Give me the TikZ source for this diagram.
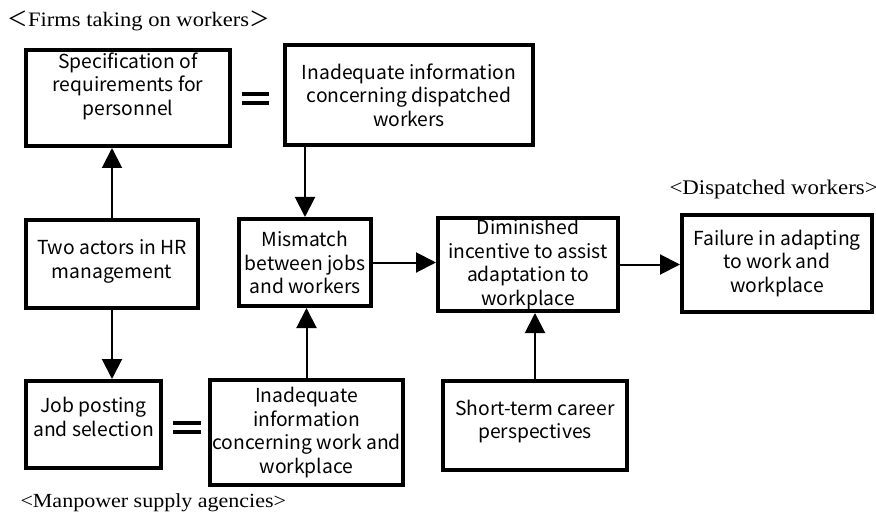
\documentclass[tikz,border=0pt]{standalone}
\usepackage{fontspec}
\setmainfont{Liberation Serif}
\newfontfamily\boxfont{Noto Sans CJK JP}
\newfontfamily\labelfont[FakeStretch=1.1]{Liberation Serif}
\newfontfamily\cjkfont{Noto Sans CJK JP}
\usetikzlibrary{arrows.meta}
\newcommand{\lifttext}[2]{\raisebox{#1}[\height][\depth]{\begin{tabular}{@{}c@{}}#2\end{tabular}}}
\tikzset{
  box/.style={draw, line width=4pt, align=center, inner sep=0pt,
    font=\boxfont\fontsize{19.3}{23.5}\selectfont},
  arr/.style={line width=2pt, -{Triangle[length=20pt,width=20pt]}},
  grp/.style={anchor=base west, font=\labelfont\fontsize{20}{24}\selectfont}
}
\begin{document}
\begin{tikzpicture}[x=1pt,y=-1pt]
    \useasboundingbox (0,0) rectangle (876,516);

    \node[grp, font=\labelfont\fontsize{20.5}{24}\selectfont] (firms) at (4,27)
        {{\cjkfont ＜}Firms taking on workers{\cjkfont ＞}};
    \node[grp, font=\labelfont\fontsize{20.8}{24}\selectfont] (dispatched) at (666,195)
        {<Dispatched workers>};
    \node[grp] (manpower) at (17,507) {<Manpower supply agencies>};

    \node[box, minimum width=204pt, minimum height=96pt] (spec) at (128,98)
        {\lifttext{11pt}{Specification of\\requirements for\\personnel}};
    \node[box, minimum width=248pt, minimum height=100pt] (dispinfo) at (409,95)
        {Inadequate information\\concerning dispatched\\workers};
    \node[box, minimum width=172pt, minimum height=88pt] (actors) at (112,264)
        {\lifttext{2pt}{Two actors in HR\\management}};
    \node[box, minimum width=132pt, minimum height=87pt] (mismatch) at (305,262.5)
        {Mismatch\\between jobs\\and workers};
    \node[box, minimum width=180pt, minimum height=93pt] (incentive) at (528,264.5)
        {Diminished\\incentive to assist\\adaptation to\\workplace};
    \node[box, minimum width=190pt, minimum height=97pt] (failure) at (777,263.5)
        {Failure in adapting\\to work and\\workplace};
    \node[box, minimum width=135pt, minimum height=87pt] (jobpost) at (93.5,424.5)
        {\lifttext{4.5pt}{Job posting\\and selection}};
    \node[box, minimum width=193pt, minimum height=105pt] (workinfo) at (306.5,432.5)
        {Inadequate\\information\\concerning work and\\workplace};
    \node[box, minimum width=184pt, minimum height=89pt] (career) at (535,425.5)
        {\lifttext{3pt}{Short-term career\\perspectives}};

    \fill (242,92) rectangle (269,96);
    \fill (242,101) rectangle (269,105);
    \fill (173,421) rectangle (201,425);
    \fill (173,430) rectangle (201,434);

    \draw[arr] (actors.north) -- (actors.north |- spec.south);
    \draw[arr] (actors.south) -- (actors.south |- jobpost.north);
    \draw[arr] (mismatch.north |- dispinfo.south) -- (mismatch.north);
    \draw[arr] (workinfo.north) -- (workinfo.north |- mismatch.south);
    \draw[arr] (mismatch.east) -- (mismatch.east -| incentive.west);
    \draw[arr] (incentive.east) -- (incentive.east -| failure.west);
    \draw[arr] (career.north) -- (career.north |- incentive.south);
\end{tikzpicture}
\end{document}
